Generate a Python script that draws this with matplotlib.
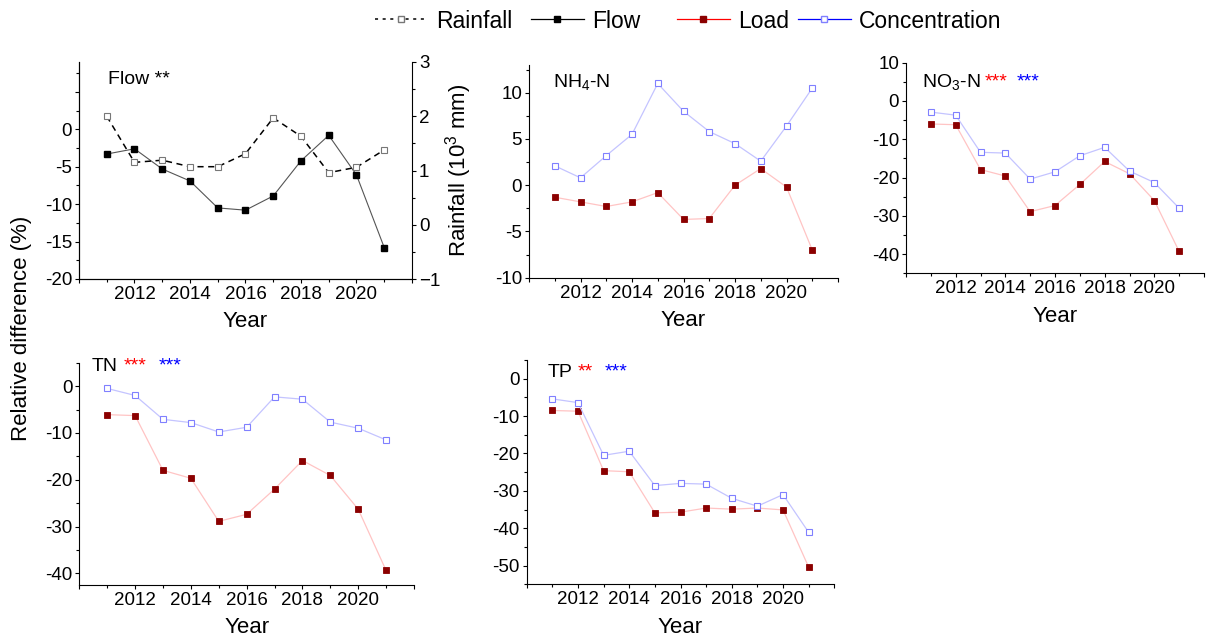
import matplotlib
matplotlib.use("Agg")
import matplotlib.pyplot as plt
from matplotlib.lines import Line2D
from matplotlib.ticker import MultipleLocator

plt.rcParams["font.family"] = ["Liberation Sans", "DejaVu Sans"]
plt.rcParams["mathtext.fontset"] = "custom"
plt.rcParams["mathtext.rm"] = "Liberation Sans"

years = [2011, 2012, 2013, 2014, 2015, 2016, 2017, 2018, 2019, 2020, 2021]

flow = [-3.3, -2.6, -5.3, -6.9, -10.5, -10.8, -8.9, -4.2, -0.8, -6.1, -15.8]
rainfall = [2.0, 1.15, 1.19, 1.07, 1.07, 1.31, 1.97, 1.63, 0.96, 1.06, 1.38]

nh4_load = [-1.3, -1.8, -2.3, -1.8, -0.8, -3.7, -3.6, 0.0, 1.8, -0.2, -7.0]
nh4_conc = [2.1, 0.8, 3.2, 5.5, 11.0, 8.0, 5.8, 4.5, 2.6, 6.4, 10.5]

no3_load = [-6.0, -6.2, -17.9, -19.6, -28.9, -27.3, -21.8, -15.8, -19.0, -26.0, -39.3]
no3_conc = [-2.9, -3.7, -13.4, -13.6, -20.4, -18.5, -14.3, -12.1, -18.3, -21.3, -28.0]

tn_load = [-6.1, -6.3, -18.0, -19.7, -28.9, -27.4, -22.0, -15.9, -19.1, -26.3, -39.4]
tn_conc = [-0.5, -2.0, -7.1, -7.8, -9.8, -8.8, -2.3, -2.8, -7.7, -9.0, -11.5]

tp_load = [-8.5, -8.7, -24.6, -24.9, -35.9, -35.7, -34.6, -34.9, -34.6, -35.1, -50.4]
tp_conc = [-5.4, -6.4, -20.5, -19.4, -28.6, -28.0, -28.2, -32.0, -34.1, -31.0, -41.1]

legend_labels = ["Rainfall", "Flow", "Load", "Concentration"]

LOAD_LINE = "#ffc4c4"
LOAD_MK = "#8b0000"
CONC_LINE = "#c4c4ff"
CONC_MK = "#8080ff"
TICK_FS = 13.5
LABEL_FS = 16
TITLE_FS = 14
STAR_FS = 14

W, H = 1208, 639
fig = plt.figure(figsize=(W / 100, H / 100), dpi=100)


def px_axes(x0, y0, x1, y1):
    return fig.add_axes([x0 / W, 1 - y1 / H, (x1 - x0) / W, (y1 - y0) / H])


def style(ax, ylim, major, minor, label_max=None):
    ax.set_xlim(2010, 2022)
    ax.set_ylim(*ylim)
    ax.xaxis.set_major_locator(MultipleLocator(2))
    ax.xaxis.set_minor_locator(MultipleLocator(1))
    ax.yaxis.set_major_locator(MultipleLocator(major))
    ax.yaxis.set_minor_locator(MultipleLocator(minor))
    ax.xaxis.set_major_formatter(
        plt.FuncFormatter(lambda v, p: "" if v < 2011 or v > 2021 else f"{int(v)}"))
    top = 1e9 if label_max is None else label_max + 1e-6
    ax.yaxis.set_major_formatter(
        plt.FuncFormatter(lambda v, p: "" if v > top else f"{v:g}"))
    ax.spines["top"].set_visible(False)
    ax.spines["right"].set_visible(False)
    ax.tick_params(axis="both", which="major", direction="out", length=3,
                   width=0.8, labelsize=TICK_FS, pad=2)
    ax.tick_params(axis="both", which="minor", direction="out", length=2, width=0.8)
    ax.set_xlabel("Year", fontsize=LABEL_FS, labelpad=6)


def pair(ax, load, conc):
    ax.plot(years, load, "-", color=LOAD_LINE, lw=0.9, marker="s", ms=4,
            mfc=LOAD_MK, mec=LOAD_MK, mew=0.6)
    ax.plot(years, conc, "-", color=CONC_LINE, lw=0.9, marker="s", ms=4,
            mfc="white", mec=CONC_MK, mew=0.8)


def stars(ax, x, y, s, color):
    ax.text(x, y, s, transform=ax.transAxes, fontsize=STAR_FS, va="center", color=color)


# Flow panel
ax1 = px_axes(79, 62, 412, 279)
style(ax1, (-20, 9), 5, 2.5, label_max=0)
ax1.plot(years, flow, "-", color="#555555", lw=0.8, marker="s", ms=4,
         mfc="black", mec="black", zorder=3)
ax1r = ax1.twinx()
ax1r.plot(years, rainfall, "--", color="black", lw=1.1, marker="s", ms=4,
          mfc="white", mec="#777777", mew=0.8, dashes=(4, 3))
ax1r.set_ylim(-1, 3)
ax1r.yaxis.set_major_locator(MultipleLocator(1))
ax1r.yaxis.set_minor_locator(MultipleLocator(0.5))
ax1r.spines["top"].set_visible(False)
ax1r.tick_params(axis="y", which="major", direction="out", length=3, width=0.8,
                 labelsize=TICK_FS, pad=2)
ax1r.tick_params(axis="y", which="minor", direction="out", length=2, width=0.8)
ax1r.set_ylabel("Rainfall (10$^3$ mm)", fontsize=LABEL_FS, labelpad=2)
ax1.text(0.087, 0.92, "Flow **", transform=ax1.transAxes, fontsize=TITLE_FS, va="center")

# NH4-N panel
ax2 = px_axes(529, 65, 838, 277.7)
style(ax2, (-10, 13), 5, 2.5)
pair(ax2, nh4_load, nh4_conc)
ax2.text(0.077, 0.917, "NH$_4$-N", transform=ax2.transAxes, fontsize=TITLE_FS, va="center")

# NO3-N panel
ax3 = px_axes(906, 62.7, 1204, 273.3)
style(ax3, (-45, 10), 10, 5)
pair(ax3, no3_load, no3_conc)
ax3.text(0.053, 0.904, "NO$_3$-N", transform=ax3.transAxes, fontsize=TITLE_FS, va="center")
stars(ax3, 0.265, 0.91, "***", "red")
stars(ax3, 0.37, 0.91, "***", "blue")

# TN panel
ax4 = px_axes(79.3, 362.7, 414, 585)
style(ax4, (-42.5, 5), 10, 5)
pair(ax4, tn_load, tn_conc)
ax4.text(0.037, 0.982, "TN", transform=ax4.transAxes, fontsize=TITLE_FS, va="center")
stars(ax4, 0.134, 0.985, "***", "red")
stars(ax4, 0.238, 0.985, "***", "blue")

# TP panel
ax5 = px_axes(526.7, 360, 834.3, 584.3)
style(ax5, (-55, 5), 10, 5)
pair(ax5, tp_load, tp_conc)
ax5.text(0.069, 0.943, "TP", transform=ax5.transAxes, fontsize=TITLE_FS, va="center")
stars(ax5, 0.166, 0.948, "**", "red")
stars(ax5, 0.252, 0.948, "***", "blue")

fig.text(0.018, 1 - 328 / H, "Relative difference (%)", rotation=90,
         fontsize=LABEL_FS, va="center", ha="center")

handles = [
    Line2D([], [], color="black", ls=(0, (2, 3)), lw=1.1, marker="s", ms=4,
           mfc="white", mec="#777777"),
    Line2D([], [], color="black", lw=0.9, marker="s", ms=4, mfc="black", mec="black"),
    Line2D([], [], color="red", lw=0.9, marker="s", ms=4, mfc=LOAD_MK, mec=LOAD_MK),
    Line2D([], [], color="blue", lw=0.9, marker="s", ms=4, mfc="white", mec=CONC_MK),
]
legend_x = [375, 531, 677, 798]
for h, lab, x in zip(handles, legend_labels, legend_x):
    fig.legend([h], [lab], loc="center left", bbox_to_anchor=(x / W, 1 - 21 / H),
               frameon=False, fontsize=16.5, handlelength=2.3, handletextpad=0.35,
               borderpad=0, borderaxespad=0, numpoints=1)

fig.savefig("out.png", dpi=100)
